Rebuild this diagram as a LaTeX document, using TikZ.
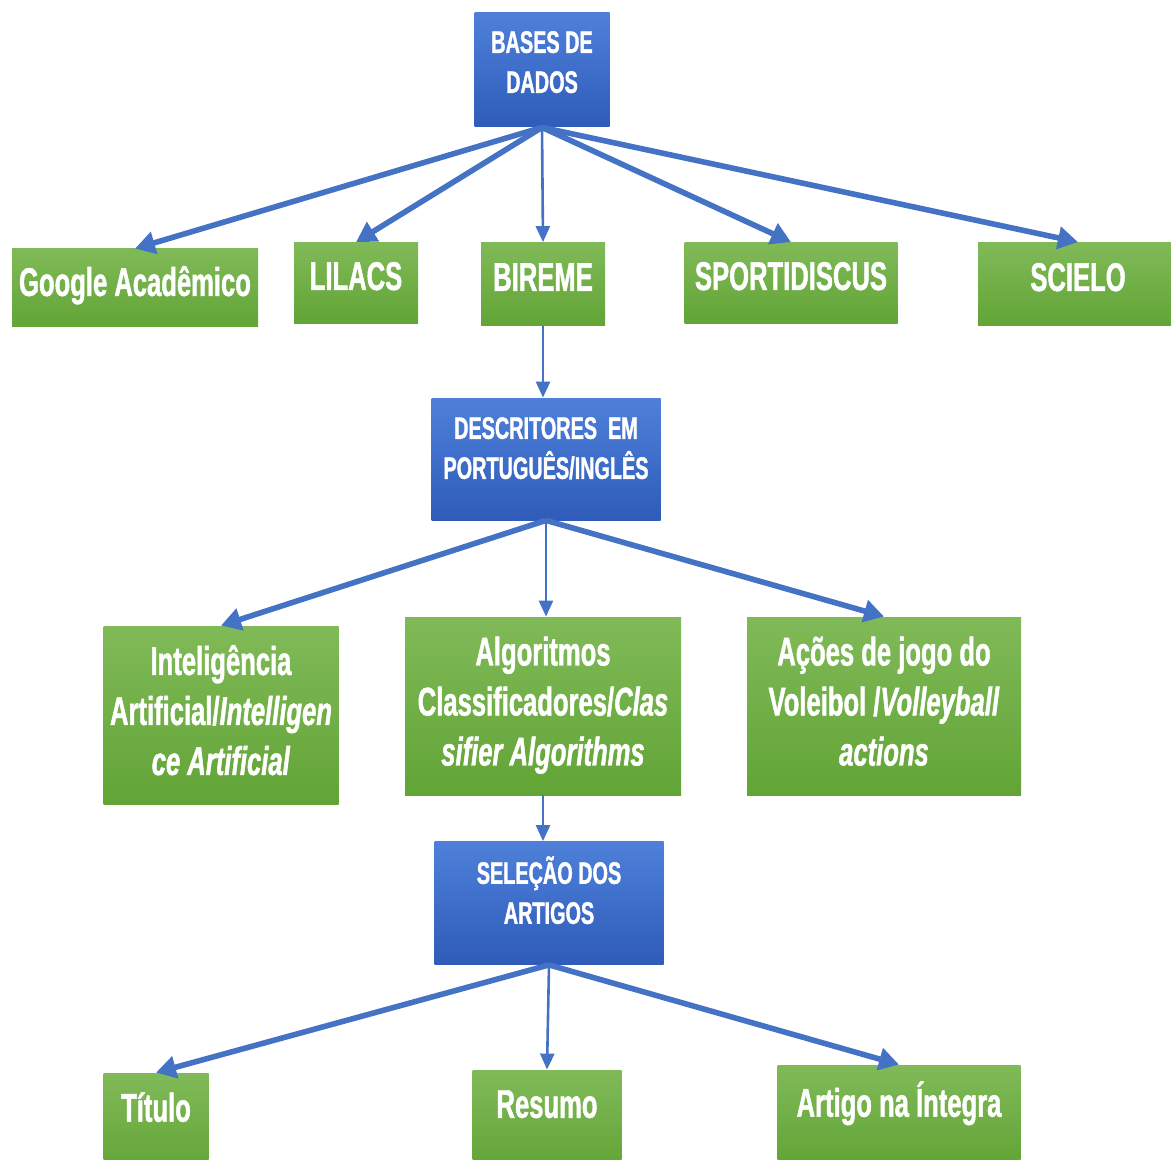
\documentclass[tikz,border=0pt]{standalone}
\usepackage{fontspec}
\setmainfont{Liberation Sans}[FakeStretch=0.64,BoldFeatures={FakeBold=1.2},BoldItalicFeatures={FakeBold=1.2}]
\usepackage{tikz}
\usetikzlibrary{arrows.meta}
\usepackage{xcolor}

\definecolor{arrowblue}{RGB}{68,114,196}
\definecolor{bluetop}{RGB}{78,128,218}
\definecolor{bluebot}{RGB}{46,92,184}
\definecolor{greentop}{RGB}{128,186,88}
\definecolor{greenbot}{RGB}{98,164,54}

\begin{document}
\begin{tikzpicture}[x=0.5pt,y=0.5pt,yscale=-1,xscale=1,
  bluebox/.style={draw=none,top color=bluetop,bottom color=bluebot,text=white,
    font=\bfseries\fontsize{15.5}{20}\selectfont,align=center,inner sep=0pt},
  greenbox/.style={draw=none,top color=greentop,bottom color=greenbot,text=white,
    font=\bfseries\fontsize{20}{25}\selectfont,align=center,inner sep=0pt},
  bigarrow/.style={draw=arrowblue,line width=2.8pt,-{Triangle[length=10pt,width=11pt]}},
  thinarrow/.style={draw=arrowblue,line width=1.3pt,-{Triangle[length=8pt,width=7pt]}}]
\useasboundingbox (0,0) rectangle (1171,1160);

% Blue boxes
\node [bluebox,minimum width=67.5pt,minimum height=57pt,text depth=8pt] (bases) at (542,70) {BASES DE\\DADOS};
\node [bluebox,minimum width=114.5pt,minimum height=61pt,text depth=11pt] (descr) at (546,459) {DESCRITORES\ \ EM\\PORTUGUÊS/INGLÊS};
\node [bluebox,minimum width=114.5pt,minimum height=61.5pt,text depth=13pt] (selecao) at (549,903) {SELEÇÃO DOS\\ARTIGOS};

% Bases de dados
\node [greenbox,minimum width=123pt,minimum height=39pt,text depth=7pt] (google) at (135,288) {Google Acadêmico};
\node [greenbox,minimum width=62pt,minimum height=40.5pt,text depth=7pt] (lilacs) at (356,283) {LILACS};
\node [greenbox,minimum width=62pt,minimum height=41.5pt,text depth=7pt] (bireme) at (543,284) {BIREME};
\node [greenbox,minimum width=106.5pt,minimum height=40.5pt,text depth=7pt] (sport) at (791,283) {SPORTIDISCUS};
\node [greenbox,minimum width=100pt,minimum height=41.5pt,text depth=7pt] (scielo) at (1078,284) {SCIELO};

% Descritores
\node [greenbox,minimum width=117.5pt,minimum height=89pt,text depth=5pt] (intel) at (221,715) {Inteligência\\Artificial/\textit{Intelligen}\\\textit{ce Artificial}};
\node [greenbox,minimum width=138pt,minimum height=89pt,text depth=5pt] (algo) at (543,706) {Algoritmos\\Classificadores/\textit{Clas}\\\textit{sifier Algorithms}};
\node [greenbox,minimum width=137pt,minimum height=89pt,text depth=5pt] (acoes) at (884,706) {Ações de jogo do\\Voleibol /\textit{Volleyball}\\\textit{actions}};

% Selecao
\node [greenbox,minimum width=52.5pt,minimum height=50pt,text depth=16pt] (titulo) at (156,1123) {Título};
\node [greenbox,minimum width=74.5pt,minimum height=50pt,text depth=16pt] (resumo) at (547,1120) {Resumo};
\node [greenbox,minimum width=121.5pt,minimum height=50pt,text depth=16pt] (artigo) at (899,1115) {Artigo na Íntegra};

% Connectors
\draw [bigarrow] (bases.south) -- (google.north);
\draw [bigarrow] (bases.south) -- (lilacs.north);
\draw [thinarrow] (bases.south) -- (bireme.north);
\draw [bigarrow] (bases.south) -- (sport.north);
\draw [bigarrow] (bases.south) -- (scielo.north);
\draw [thinarrow] (bireme.south) -- (bireme.south |- descr.north);
\draw [bigarrow] (descr.south) -- (intel.north);
\draw [thinarrow] (descr.south) -- (descr.south |- algo.north);
\draw [bigarrow] (descr.south) -- (acoes.north);
\draw [thinarrow] (algo.south) -- (algo.south |- selecao.north);
\draw [bigarrow] (selecao.south) -- (titulo.north);
\draw [thinarrow] (selecao.south) -- (resumo.north);
\draw [bigarrow] (selecao.south) -- (artigo.north);

\end{tikzpicture}
\end{document}
